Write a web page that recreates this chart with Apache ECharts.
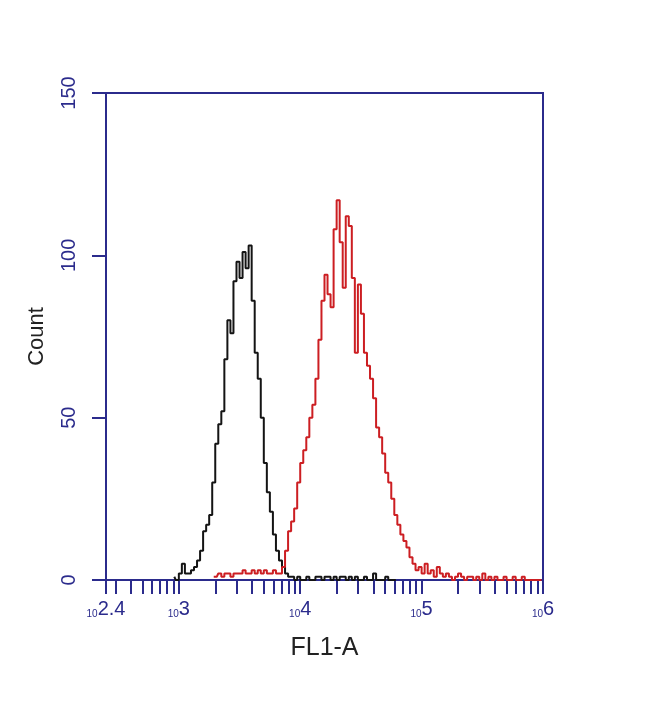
<!DOCTYPE html>
<html>
<head>
<meta charset="utf-8">
<script src="https://cdn.jsdelivr.net/npm/echarts@6/dist/echarts.min.js"></script>
<style>
  html, body { margin: 0; padding: 0; background: #fff; }
  #main { width: 650px; height: 701px; }
</style>
</head>
<body>
<div id="main"></div>
<script>
// histogram channels in log10 units
var binStart = 2.4;
var binWidth = 0.025;

// black (control) histogram, counts from channel 22 on
var blackFirstBin = 22;
var blackCounts = [1, 0, 2, 5, 2, 2, 3, 4, 6, 9, 15, 17, 20, 30, 42, 48, 52, 68, 80, 76,
  92, 98, 93, 101, 96, 103, 86, 70, 62, 50, 36, 27, 21, 14, 9, 6, 4, 2, 1, 1,
  0, 1, 0, 0, 1, 0, 0, 1, 1, 0, 1, 1, 0, 1, 0, 1, 1, 0, 1, 0,
  1, 0, 0, 1, 0, 0, 2, 0, 0, 0, 1, 0, 0, 0];

// red (stained) histogram, counts from channel 35 on
var redFirstBin = 35;
var redCounts = [1, 1, 2, 1, 2, 2, 1, 2, 2, 2, 3, 2, 2, 3, 2, 3, 2, 3, 2, 2, 3, 2,
  2, 4, 9, 15, 18, 22, 30, 36, 40, 44, 50, 54, 62, 74, 86, 94, 88, 84, 108, 117,
  104, 90, 112, 109, 93, 70, 91, 82, 70, 66, 62, 56, 47, 44, 39, 33, 30, 25, 20,
  17, 14, 12, 10, 7, 5, 3,
  4, 2, 5, 2, 3, 1, 4, 2, 1, 2, 1, 0, 1, 2, 1, 0, 1, 1, 0, 1, 0, 2, 0, 1, 0, 1,
  0, 0, 1, 0, 0, 1, 0, 0, 1, 0, 0, 0, 0, 0, 0];

// axis ticks
var xMajorTicks = [2.4, 3, 4, 5, 6];
var xMinorTicks = [300, 400, 500, 600, 700, 800, 900,
  2000, 3000, 4000, 5000, 6000, 7000, 8000, 9000,
  20000, 30000, 40000, 50000, 60000, 70000, 80000, 90000,
  200000, 300000, 400000, 500000, 600000, 700000, 800000, 900000];
var xExponentLabels = ['2.4', '3', '4', '5', '6'];

var navy = '#2b2b8c';

function toPoints(first, counts) {
  return counts.map(function (c, k) {
    return [binStart + binWidth * (first + k + 0.5), c];
  });
}

var tickValues = xMajorTicks.concat(xMinorTicks.map(function (v) { return Math.log10(v); }));

var myChart = echarts.init(document.getElementById('main'));
var option = {
  animation: false,
  backgroundColor: '#fff',
  grid: {
    left: 106, right: 107, top: 93, bottom: 121,
    show: true, borderColor: navy, borderWidth: 2
  },
  xAxis: {
    type: 'value', min: 2.4, max: 6, z: 3,
    axisLine: { lineStyle: { color: navy, width: 2 } },
    axisTick: { customValues: tickValues, length: 14, lineStyle: { color: navy, width: 2 } },
    axisLabel: {
      customValues: xMajorTicks,
      margin: 19,
      formatter: function (v) {
        return '{b|10}{e|' + xExponentLabels[xMajorTicks.indexOf(v)] + '}';
      },
      rich: {
        b: { fontSize: 10, color: navy, fontFamily: 'Liberation Sans', verticalAlign: 'bottom', padding: [8, 0, 0, 0] },
        e: { fontSize: 20, color: navy, fontFamily: 'Liberation Sans' }
      }
    },
    splitLine: { show: false },
    name: 'FL1-A', nameLocation: 'middle', nameGap: 56,
    nameTextStyle: { fontSize: 25, color: '#222', fontFamily: 'Liberation Sans' }
  },
  yAxis: {
    type: 'value', min: 0, max: 150, interval: 50, z: 3,
    axisLine: { show: true, lineStyle: { color: navy, width: 2 } },
    axisTick: { show: true, length: 14, lineStyle: { color: navy, width: 2 } },
    axisLabel: { rotate: 90, margin: 27, fontSize: 20, color: navy, fontFamily: 'Liberation Sans' },
    splitLine: { show: false },
    name: 'Count', nameLocation: 'middle', nameGap: 58, nameRotate: 90,
    nameTextStyle: { fontSize: 22, color: '#222', fontFamily: 'Liberation Sans' }
  },
  series: [
    {
      type: 'line', step: 'middle', showSymbol: false,
      data: toPoints(blackFirstBin, blackCounts),
      lineStyle: { color: '#141414', width: 2 }
    },
    {
      type: 'line', step: 'middle', showSymbol: false,
      data: toPoints(redFirstBin, redCounts),
      lineStyle: { color: '#cc1e22', width: 2 }
    }
  ]
};
myChart.setOption(option);
</script>
</body>
</html>
